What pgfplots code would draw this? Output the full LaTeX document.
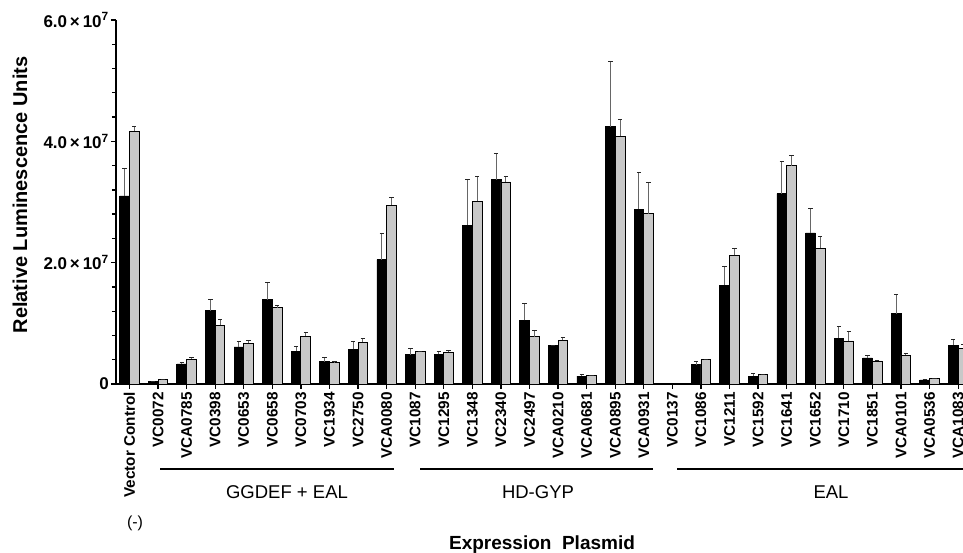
\documentclass[border=0pt]{standalone}
\usepackage{pgfplots}
\pgfplotsset{compat=1.18}
\usepackage{pgfplotstable}
\usepackage{fontspec}
\setmainfont{Liberation Sans}
\definecolor{lgray}{HTML}{C8C8C8}
\newcommand\tl[1]{{\bfseries\fontsize{15.3}{15.3}\selectfont #1}}
\pgfplotstableread{
x b be g ge
0 31.0e6 4.6e6 41.7e6 0.8e6
1 0.46e6 0 0.8e6 0
2 3.3e6 0.3e6 4.1e6 0.3e6
3 12.1e6 1.8e6 9.7e6 0.9e6
4 6.1e6 0.9e6 6.7e6 0.4e6
5 13.9e6 2.8e6 12.6e6 0.4e6
6 5.4e6 0.8e6 7.9e6 0.6e6
7 3.7e6 0.6e6 3.6e6 0.1e6
8 5.7e6 1.3e6 6.9e6 0.6e6
9 20.5e6 4.3e6 29.5e6 1.3e6
10 4.8e6 1.0e6 5.3e6 0
11 4.9e6 0.4e6 5.2e6 0.3e6
12 26.2e6 7.5e6 30.1e6 4.1e6
13 33.7e6 4.3e6 33.3e6 0.9e6
14 10.5e6 2.8e6 7.8e6 1.1e6
15 6.3e6 0.1e6 7.2e6 0.5e6
16 1.3e6 0.3e6 1.4e6 0
17 42.4e6 10.8e6 40.8e6 2.8e6
18 28.8e6 6.1e6 28.1e6 5.1e6
20 3.2e6 0.5e6 4.0e6 0.1e6
21 16.3e6 3.0e6 21.2e6 1.2e6
22 1.3e6 0.4e6 1.5e6 0.1e6
23 31.4e6 5.2e6 36.0e6 1.7e6
24 24.9e6 4.0e6 22.4e6 1.9e6
25 7.5e6 1.9e6 7.1e6 1.6e6
26 4.3e6 0.4e6 3.8e6 0
27 11.6e6 3.1e6 4.7e6 0.4e6
28 0.66e6 0 0.93e6 0
29 6.4e6 1.0e6 5.9e6 0.6e6
}\data
\begin{document}
\begin{tikzpicture}[x=1pt,y=1pt]
\useasboundingbox (-116,-169) rectangle (847,384);
\begin{axis}[
  at={(0,0)}, anchor=south west,
  width=847pt, height=364pt, scale only axis,
  xmin=-0.47, xmax=29.17, ymin=0, ymax=6e7,
  axis x line=bottom, axis y line=left,
  axis line style={line width=1.6pt, -},
  tick align=outside,
  major tick length=5pt, minor tick length=4pt,
  tick style={line width=1.3pt, black},
  xtick={0,...,29},
  xticklabels={\tl{Vector Control}, \tl{VC0072}, \tl{VCA0785}, \tl{VC0398}, \tl{VC0653}, \tl{VC0658}, \tl{VC0703}, \tl{VC1934}, \tl{VC2750}, \tl{VCA0080}, \tl{VC1087}, \tl{VC1295}, \tl{VC1348}, \tl{VC2340}, \tl{VC2497}, \tl{VCA0210}, \tl{VCA0681}, \tl{VCA0895}, \tl{VCA0931}, \tl{VC0137}, \tl{VC1086}, \tl{VC1211}, \tl{VC1592}, \tl{VC1641}, \tl{VC1652}, \tl{VC1710}, \tl{VC1851}, \tl{VCA0101}, \tl{VCA0536}, \tl{VCA1083}},
  x tick label style={rotate=90, anchor=east, inner sep=3pt, font=\bfseries\fontsize{15.3}{15.3}\selectfont},
  scaled y ticks=false,
  ytick={0,2e7,4e7,6e7},
  yticklabels={0, 2.0\,×\,10\textsuperscript{7}, 4.0\,×\,10\textsuperscript{7}, 6.0\,×\,10\textsuperscript{7}},
  minor y tick num=4,
  y tick label style={font=\bfseries\fontsize{17}{17}\selectfont, inner sep=2pt},
]
\addplot[ybar, bar width=0.34, bar shift=-0.17, fill=black, draw=black, line width=0.8pt] table[x=x, y=b] {\data};
\addplot[ybar, bar width=0.34, bar shift=0.17, fill=lgray, draw=black, line width=0.8pt] table[x=x, y=g] {\data};
\addplot[only marks, mark=text, text mark={},
  error bars/.cd, y dir=plus, y explicit,
  error bar style={line width=1pt, black!60, solid},
  error mark options={rotate=90, line width=1pt, mark size=2.2pt, black!85}]
  table[x expr=\thisrow{x}-0.17, y=b, y error=be] {\data};
\addplot[only marks, mark=text, text mark={},
  error bars/.cd, y dir=plus, y explicit,
  error bar style={line width=1pt, black!60, solid},
  error mark options={rotate=90, line width=1pt, mark size=2.2pt, black!85}]
  table[x expr=\thisrow{x}+0.17, y=g, y error=ge] {\data};
\end{axis}
\draw[line width=2pt] (44,-85) -- (278,-85);
\draw[line width=2pt] (304,-85) -- (537,-85);
\draw[line width=2pt] (561,-85) -- (860,-85);
\node[font=\fontsize{18.5}{18.5}\selectfont] at (171,-108.5) {GGDEF + EAL};
\node[font=\fontsize{18.5}{18.5}\selectfont] at (422,-108) {HD-GYP};
\node[font=\fontsize{18.5}{18.5}\selectfont] at (715,-108) {EAL};
\node[font=\fontsize{16}{16}\selectfont] at (19,-139) {(-)};
\node[font=\bfseries\fontsize{19}{19}\selectfont] at (426,-161) {Expression\ \ Plasmid};
\node[font=\bfseries\fontsize{20}{20}\selectfont, rotate=90] at (-96,189) {Relative Luminescence Units};
\end{tikzpicture}
\end{document}
